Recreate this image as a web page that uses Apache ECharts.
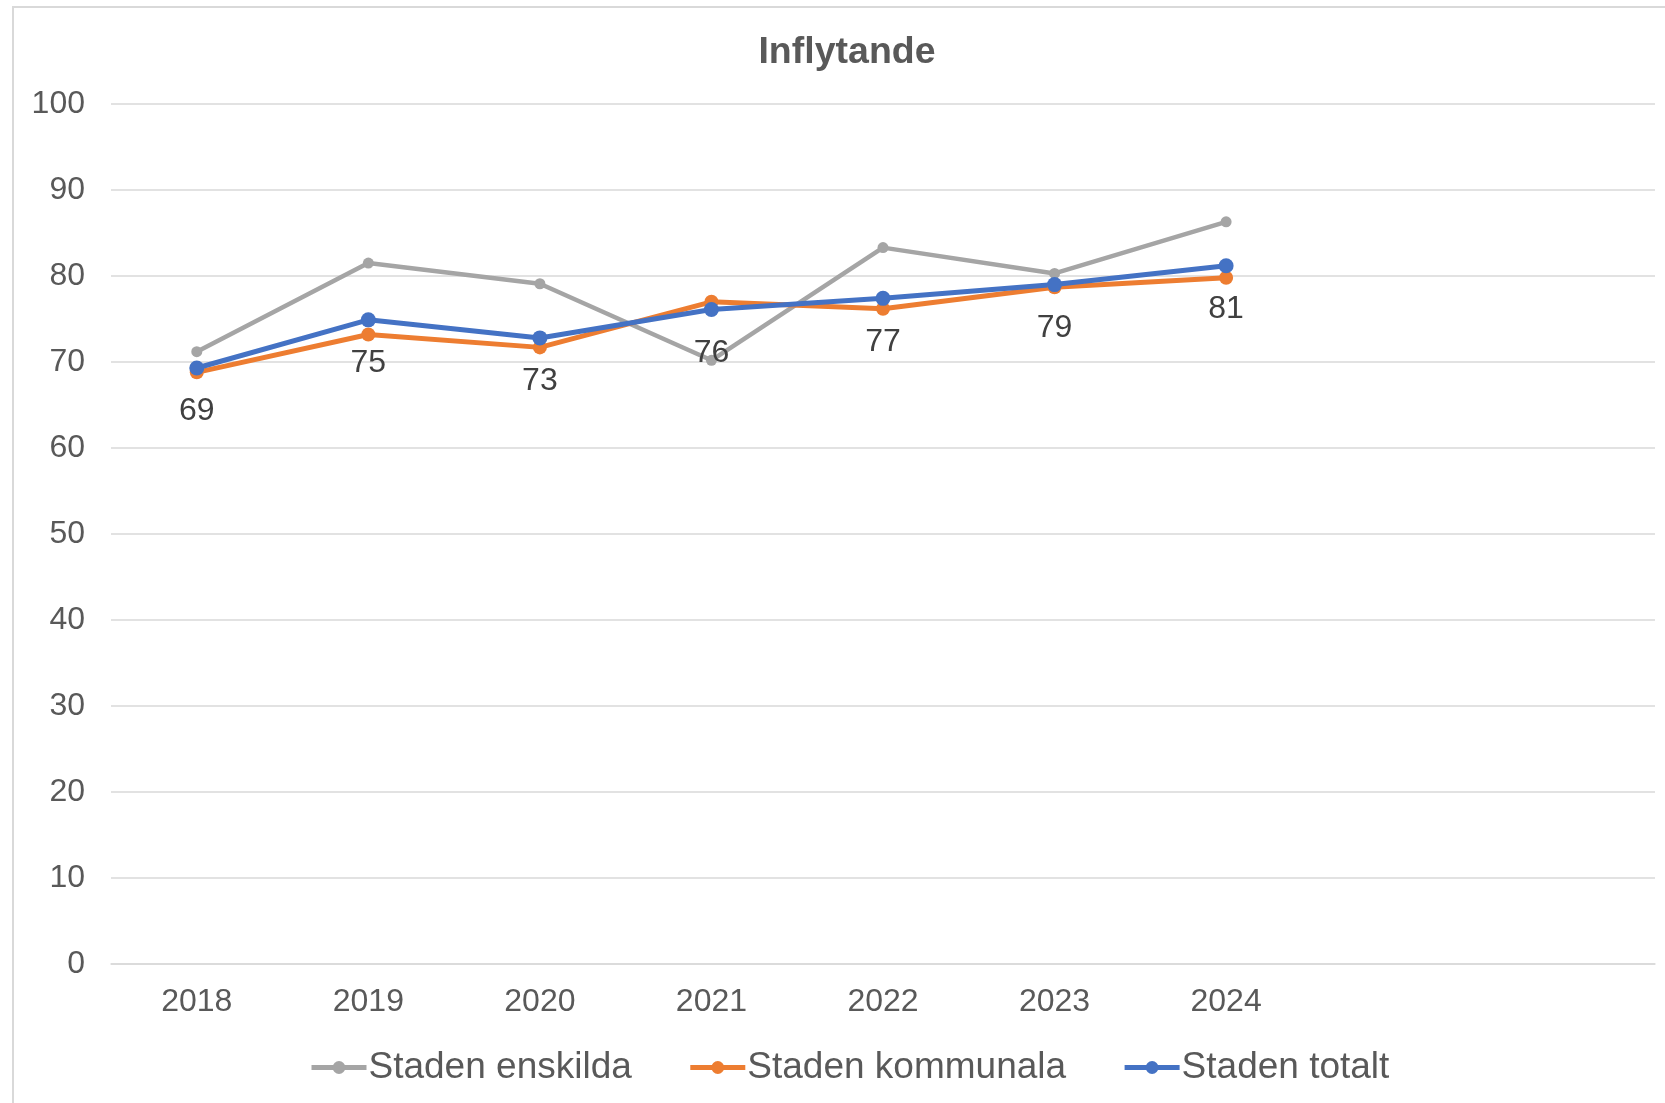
<!DOCTYPE html>
<html>
<head>
<meta charset="utf-8">
<script src="https://cdn.jsdelivr.net/npm/echarts@6/dist/echarts.min.js"></script>
<style>
  html, body { margin: 0; padding: 0; background: #fff; overflow: hidden; }
  #frame { position: absolute; left: 12px; top: 6px; width: 1700px; height: 1150px; border: 2px solid #d9d9d9; box-sizing: border-box; }
  #chart { position: absolute; left: 0; top: 0; width: 1665px; height: 1103px; }
</style>
</head>
<body>
<div id="frame"></div>
<div id="chart"></div>
<script>
// år på x-axeln, två tomma kategorier till höger som i originalet
const years = ['2018', '2019', '2020', '2021', '2022', '2023', '2024', '', ''];
const enskilda = [71.2, 81.5, 79.1, 70.2, 83.3, 80.3, 86.3];
const kommunala = [68.8, 73.2, 71.7, 77.0, 76.2, 78.7, 79.8];
const totalt = [69.3, 74.9, 72.8, 76.1, 77.4, 79.0, 81.2];

const font = 'Liberation Sans, Arial, sans-serif';

const chart = echarts.init(document.getElementById('chart'));
chart.setOption({
    animation: false,
    title: {
        text: 'Inflytande', left: 842, top: 29, textAlign: 'center',
        textStyle: { fontFamily: font, fontSize: 37.5, fontWeight: 'bold', color: '#595959' }
    },
    grid: { left: 111, right: 10, top: 104, bottom: 139 },
    xAxis: {
        type: 'category', data: years, boundaryGap: true,
        axisLine: { lineStyle: { color: '#d9d9d9', width: 1.5 } },
        axisTick: { show: false },
        axisLabel: { fontFamily: font, fontSize: 32, color: '#595959', margin: 22 }
    },
    yAxis: {
        type: 'value', min: 0, max: 100, interval: 10,
        axisLine: { show: false }, axisTick: { show: false },
        splitLine: { lineStyle: { color: '#d9d9d9', width: 1.5 } },
        axisLabel: { fontFamily: font, fontSize: 32, color: '#595959', margin: 26 }
    },
    legend: {
        left: 304, top: 1044, itemWidth: 55, itemHeight: 16, itemGap: 56,
        lineStyle: { width: 5 },
        textStyle: { fontFamily: font, fontSize: 37, color: '#595959', padding: [0, 0, 0, -3] },
        data: ['Staden enskilda', 'Staden kommunala', 'Staden totalt']
    },
    series: [
        {
            name: 'Staden enskilda', type: 'line', data: enskilda,
            symbol: 'circle', symbolSize: 11, color: '#a5a5a5',
            lineStyle: { width: 4.5, color: '#a5a5a5' }, itemStyle: { color: '#a5a5a5' }
        },
        {
            name: 'Staden kommunala', type: 'line', data: kommunala,
            symbol: 'circle', symbolSize: 14, color: '#ed7d31',
            lineStyle: { width: 5, color: '#ed7d31' }, itemStyle: { color: '#ed7d31' }
        },
        {
            name: 'Staden totalt', type: 'line', data: totalt,
            symbol: 'circle', symbolSize: 15, color: '#4472c4',
            lineStyle: { width: 5, color: '#4472c4' }, itemStyle: { color: '#4472c4' },
            label: {
                show: true, position: 'bottom', distance: 20,
                fontFamily: font, fontSize: 32, color: '#404040',
                formatter: p => Math.round(p.value)
            }
        }
    ]
});
</script>
</body>
</html>
